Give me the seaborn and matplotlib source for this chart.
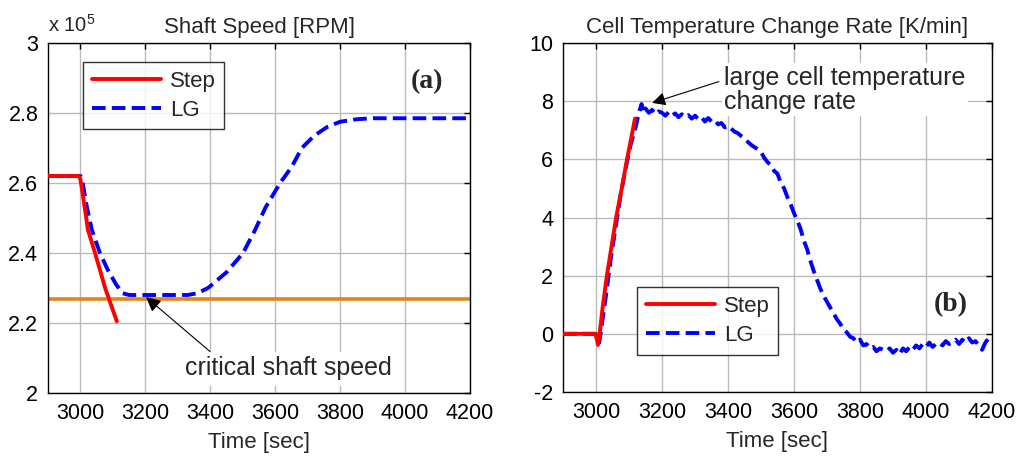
import matplotlib
matplotlib.use("Agg")
import matplotlib.pyplot as plt
import seaborn as sns
import numpy as np
import pandas as pd
from matplotlib.ticker import FuncFormatter, FixedLocator
from matplotlib.lines import Line2D

# ---------------- data ----------------
# (a) shaft speed [RPM]
speed_step_t = [2900, 2995, 3000, 3010, 3023, 3045, 3076, 3112]
speed_step_v = [262000, 262000, 261000, 255000, 246600, 240000, 230000, 220500]
speed_lg_t = [2900, 3000, 3005, 3020, 3035, 3060, 3085, 3110, 3130, 3150, 3330, 3360,
              3393, 3450, 3501, 3538, 3570, 3615, 3650, 3682, 3720, 3760, 3800, 3850,
              3900, 4200]
speed_lg_v = [262000, 262000, 261000, 253000, 246600, 240000, 235000, 231000, 228500,
              228000, 228000, 228500, 230000, 234500, 240000, 246600, 253000, 260000,
              264500, 270000, 273500, 276000, 277500, 278200, 278500, 278500]
critical_speed = 227000

# (b) cell temperature change rate [K/min]
rate_step_t = [2900, 2998, 3003, 3006, 3010, 3020, 3033, 3047, 3061, 3078, 3094, 3108, 3118]
rate_step_v = [0, 0, -0.2, -0.38, -0.1, 0.9, 2.0, 3.0, 4.0, 5.0, 6.0, 6.8, 7.4]
rate_lg_t = [2900, 3000, 3005, 3010, 3015, 3030, 3045, 3060, 3075, 3090, 3105, 3120, 3130,
             3138, 3145, 3150, 3160, 3170, 3180, 3190, 3200, 3210, 3220, 3230, 3240, 3250,
             3260, 3270, 3280, 3290, 3300, 3310, 3320, 3330, 3340, 3350, 3360, 3370, 3380,
             3390, 3400, 3410, 3420, 3430, 3440, 3450, 3460, 3470, 3480, 3490, 3500, 3510,
             3520, 3530, 3540, 3550, 3560, 3570, 3580, 3590, 3600, 3610, 3620, 3630, 3640,
             3650, 3660, 3670, 3680, 3690, 3700, 3710, 3720, 3730, 3740, 3750, 3760, 3770,
             3780, 3790, 3800, 3810, 3820, 3830, 3840, 3850, 3860, 3870, 3880, 3890, 3900,
             3910, 3920, 3930, 3940, 3950, 3960, 3970, 3980, 3990, 4000, 4010, 4020, 4030,
             4040, 4050, 4060, 4070, 4080, 4090, 4100, 4110, 4120, 4130, 4140, 4150, 4160,
             4170, 4180, 4190]
rate_lg_v = [0, 0, -0.2, -0.3, 0.1, 1.3, 2.6, 3.7, 4.8, 5.7, 6.5, 7.1, 7.6,
             7.9, 7.6, 7.75, 7.6, 7.7, 7.55, 7.65, 7.6, 7.5, 7.62, 7.5, 7.58, 7.45,
             7.55, 7.45, 7.52, 7.4, 7.5, 7.38, 7.45, 7.3, 7.42, 7.3, 7.35, 7.2, 7.25,
             7.1, 7.15, 7.05, 6.95, 6.9, 6.8, 6.72, 6.6, 6.5, 6.42, 6.35, 6.25, 6.05,
             5.9, 5.8, 5.6, 5.5, 5.2, 5.0, 4.7, 4.45, 4.15, 3.9, 3.6, 3.2, 2.9,
             2.5, 2.15, 1.85, 1.55, 1.3, 1.1, 0.9, 0.7, 0.5, 0.35, 0.15, 0.05, -0.1,
             -0.15, -0.3, -0.2, -0.4, -0.35, -0.5, -0.45, -0.6, -0.5, -0.55, -0.6, -0.5, -0.65,
             -0.55, -0.7, -0.5, -0.6, -0.45, -0.55, -0.4, -0.5, -0.35, -0.45, -0.3, -0.45, -0.35,
             -0.3, -0.4, -0.25, -0.35, -0.3, -0.2, -0.35, -0.2, -0.3, -0.15, -0.3, -0.25, -0.4,
             -0.55, -0.3, -0.15]

x_ticks = [3000, 3200, 3400, 3600, 3800, 4000, 4200]
speed_ticks = [200000, 220000, 240000, 260000, 280000, 300000]
rate_ticks = [-2, 0, 2, 4, 6, 8, 10]
legend_labels = ["Step", "LG"]

# ---------------- style ----------------
sns.set_style("white")
plt.rcParams["font.family"] = ["Liberation Sans", "DejaVu Sans"]
plt.rcParams["mathtext.fontset"] = "custom"
plt.rcParams["mathtext.rm"] = "Liberation Sans"
plt.rcParams["mathtext.it"] = "Liberation Sans:italic"
plt.rcParams["axes.unicode_minus"] = False

RED = "#FF0000"
BLUE = "#0000FF"
ORANGE = "#E2861A"
GRID = "#BABABA"

fig = plt.figure(figsize=(10.19, 4.57), dpi=100)
ax1 = fig.add_axes([48/1019, 1-393/457, 422/1019, 350/457])
ax2 = fig.add_axes([563/1019, 1-392/457, 429/1019, 349/457])


def style_axes(ax):
    ax.grid(True, color=GRID, lw=1.0, ls="-")
    ax.set_axisbelow(True)
    for s in ax.spines.values():
        s.set_color("black")
        s.set_linewidth(1.0)
        s.set_visible(True)
    ax.tick_params(direction="in", length=4, width=1, top=True, right=True,
                   labelsize=15.5, pad=7, colors="black")
    ax.set_xlabel("Time [sec]", fontsize=16, labelpad=6)
    ax.set_xticks(x_ticks)
    ax.set_xlim(2900, 4200)


def make_legend(ax, anchor):
    h = [Line2D([], [], color=RED, lw=2.8),
         Line2D([], [], color=BLUE, lw=2.8, ls=(0, (3.5, 1.6)))]
    leg = ax.legend(h, legend_labels, loc="upper left", bbox_to_anchor=anchor,
                    borderaxespad=0, fontsize=16, frameon=True, fancybox=False,
                    edgecolor="black", handlelength=3.1, handletextpad=0.4,
                    borderpad=0.4, labelspacing=0.35)
    leg.get_frame().set_linewidth(1.0)
    return leg


# ----- panel (a) -----
df_lg = pd.DataFrame({"t": speed_lg_t, "v": speed_lg_v})
df_st = pd.DataFrame({"t": speed_step_t, "v": speed_step_v})
sns.lineplot(data=df_lg, x="t", y="v", ax=ax1, color=BLUE, lw=2.8, ls="--",
             sort=False, estimator=None, zorder=3)
ax1.lines[-1].set_dashes((3.5, 1.6))
sns.lineplot(data=df_st, x="t", y="v", ax=ax1, color=RED, lw=2.8,
             sort=False, estimator=None, zorder=4)
ax1.axhline(critical_speed, color=ORANGE, lw=2.6, zorder=2)
style_axes(ax1)
ax1.set_ylim(200000, 300000)
ax1.yaxis.set_major_locator(FixedLocator(speed_ticks))
ax1.yaxis.set_major_formatter(FuncFormatter(lambda v, p: f"{v/1e5:g}"))
ax1.set_ylabel("")
ax1.set_title("Shaft Speed [RPM]", fontsize=16, pad=7)
ax1.text(0.0, 1.031, r"x 10$^5$", transform=ax1.transAxes, fontsize=14.5,
         ha="left", va="baseline")
ax1.annotate("critical shaft speed", xy=(3202, 227400), xytext=(3640, 207000),
             fontsize=18, ha="center", va="center",
             bbox=dict(boxstyle="square,pad=0.2", fc="white", ec="none"),
             arrowprops=dict(arrowstyle="-|>", color="black", lw=0.8,
                             mutation_scale=22, shrinkA=0, shrinkB=0,
                             relpos=(0.15, 1.0)),
             zorder=6)
ax1.text(4068, 289100, "(a)", fontsize=20, fontweight="bold",
         family="Liberation Serif", ha="center", va="center")
make_legend(ax1, (0.083, 0.946))

# ----- panel (b) -----
df_lg2 = pd.DataFrame({"t": rate_lg_t, "v": rate_lg_v})
df_st2 = pd.DataFrame({"t": rate_step_t, "v": rate_step_v})
sns.lineplot(data=df_lg2, x="t", y="v", ax=ax2, color=BLUE, lw=2.8, ls="--",
             sort=False, estimator=None, zorder=3)
ax2.lines[-1].set_dashes((3.5, 1.6))
sns.lineplot(data=df_st2, x="t", y="v", ax=ax2, color=RED, lw=2.8,
             sort=False, estimator=None, zorder=4)
style_axes(ax2)
ax2.set_ylim(-2, 10)
ax2.set_yticks(rate_ticks)
ax2.set_ylabel("")
ax2.set_title("Cell Temperature Change Rate [K/min]", fontsize=16, pad=7)
ax2.annotate("large cell temperature\nchange rate", xy=(3170, 7.94), xytext=(3388, 8.4),
             fontsize=18, ha="left", va="center", linespacing=1.0,
             bbox=dict(boxstyle="square,pad=0.1", fc="white", ec="none"),
             arrowprops=dict(arrowstyle="-|>", color="black", lw=0.8,
                             mutation_scale=20, shrinkA=2, shrinkB=0,
                             relpos=(0.0, 0.7)),
             zorder=6)
ax2.text(4076, 1.0, "(b)", fontsize=20, fontweight="bold",
         family="Liberation Serif", ha="center", va="center")
make_legend(ax2, (0.1725, 0.301))

fig.savefig("out.png", dpi=100, facecolor="white")
